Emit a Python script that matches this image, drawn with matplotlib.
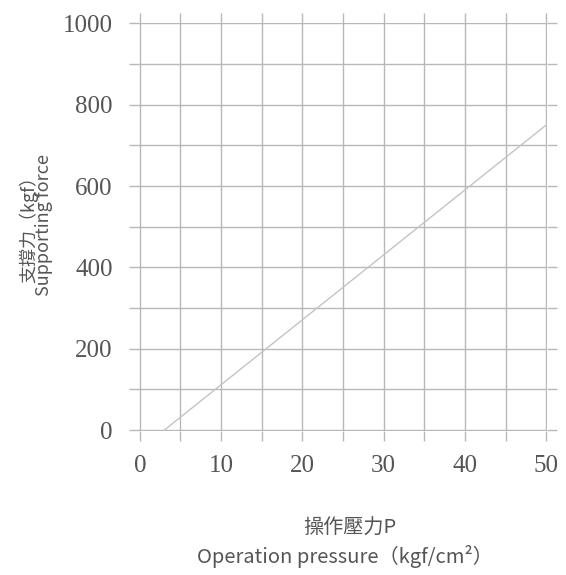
import numpy as np
import matplotlib
matplotlib.use('Agg')
import matplotlib.pyplot as plt
from matplotlib.ticker import MultipleLocator

# data
pressure = [3, 50]
force = [0, 750]

x_major = 10
x_minor = 5
y_major = 200
y_minor = 100

ylabel_text = '支撐力（kgf）\nSupporting force'
xlabel_line1 = '操作壓力P'
xlabel_line2 = 'Operation pressure（kgf/cm²）'

grid_color = '#b8b8b8'
text_color = '#555555'
cjk = ['Noto Sans CJK TC', 'DejaVu Sans']

fig = plt.figure(figsize=(5.66, 5.75), dpi=100)
ax = fig.add_axes([139 / 566, 1 - 431 / 575, (547 - 139) / 566, (431 - 22.5) / 575])

ax.plot(pressure, force, color='#c4c4c4', linewidth=1.0, zorder=3)

# small pad so the border grid lines are not clipped in half
ax.set_xlim(-0.1, 50.1)
ax.set_ylim(-2, 1002)
ax.xaxis.set_major_locator(MultipleLocator(x_major))
ax.xaxis.set_minor_locator(MultipleLocator(x_minor))
ax.yaxis.set_major_locator(MultipleLocator(y_major))
ax.yaxis.set_minor_locator(MultipleLocator(y_minor))

ax.grid(True, which='both', color=grid_color, linewidth=1.0)
for s in ax.spines.values():
    s.set_visible(False)

ax.tick_params(which='both', direction='out', length=7, width=1.0, color=grid_color,
               top=True, right=True)
ax.tick_params(axis='y', which='major', pad=12)
ax.tick_params(axis='x', which='major', pad=10)
for lab in ax.get_xticklabels() + ax.get_yticklabels():
    lab.set_fontfamily('Liberation Serif')
    lab.set_fontsize(18)
    lab.set_color(text_color)

fig.text(36 / 566, 1 - 225 / 575, ylabel_text, rotation=90, ha='center', va='center',
         family=cjk, fontsize=13, color=text_color, linespacing=0.8)
fig.text(350 / 566, 1 - 528 / 575, xlabel_line1, ha='center', va='center',
         family=cjk, fontsize=14.5, color=text_color)
fig.text(345 / 566, 1 - 557 / 575, xlabel_line2, ha='center', va='center',
         family=cjk, fontsize=14.5, color=text_color)

fig.savefig('out.png', dpi=100)
